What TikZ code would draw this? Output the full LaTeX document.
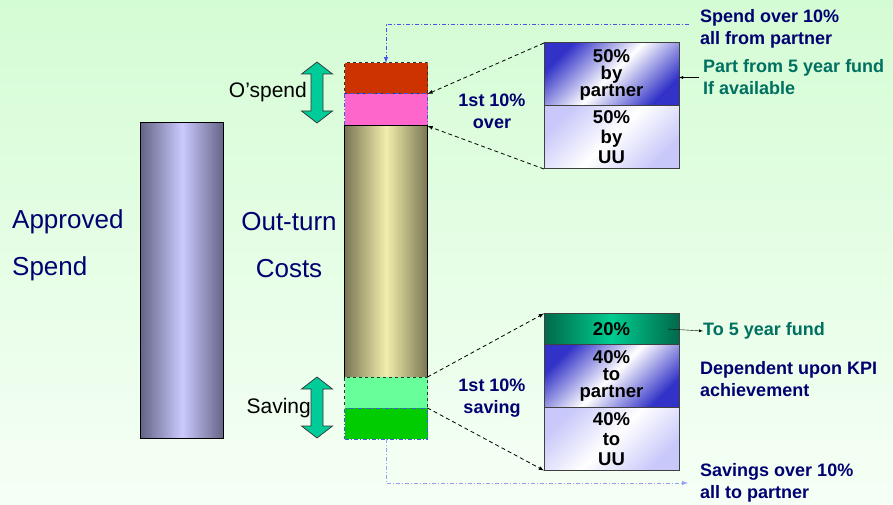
\documentclass[tikz,border=0pt]{standalone}
\usepackage{fontspec}
\setmainfont{Liberation Sans}
\usepackage{tikz}
\usetikzlibrary{positioning,arrows}

\definecolor{bgtop}{RGB}{212,252,212}
\definecolor{bgbot}{RGB}{246,255,246}
\definecolor{textblue}{RGB}{0,0,112}
\definecolor{fundtext}{RGB}{0,112,96}
\definecolor{lineblue}{RGB}{70,85,230}
\definecolor{steel}{RGB}{100,100,135}
\definecolor{lilac}{RGB}{202,202,255}
\definecolor{olivedark}{RGB}{122,118,84}
\definecolor{cream}{RGB}{242,238,172}
\definecolor{overred}{RGB}{204,51,0}
\definecolor{overpink}{RGB}{255,102,204}
\definecolor{savelight}{RGB}{102,255,153}
\definecolor{savegreen}{RGB}{0,204,0}
\definecolor{arrowteal}{RGB}{0,204,153}
\definecolor{funddark}{RGB}{0,105,75}
\definecolor{fundlight}{RGB}{0,205,145}
\definecolor{cellblue}{RGB}{50,50,200}
\definecolor{celllav}{RGB}{200,200,250}

\tikzset{
  bar/.style={minimum width=83pt, inner sep=0pt, outer sep=0pt, line width=1pt},
  cell/.style={draw=black!75, line width=1pt, minimum width=135pt, inner sep=0pt, outer sep=0pt,
    align=center, font=\fontsize{18.5}{17}\selectfont\bfseries},
  note/.style={inner sep=0pt, anchor=west, align=left, font=\fontsize{18}{22}\selectfont\bfseries},
  big/.style={inner sep=0pt, text=textblue, font=\fontsize{26}{47}\selectfont},
  dashdot/.style={dash pattern=on 4pt off 2pt on 1pt off 2pt},
  link/.style={dash pattern=on 4pt off 3pt, line width=0.8pt, -latex},
  budget/.style={dashdot, draw=lineblue, line width=1pt, -latex}
}

\begin{document}
\begin{tikzpicture}[x=1pt,y=-1pt]
\shade[top color=bgtop, bottom color=bgbot] (0,0) rectangle (893,505);
\useasboundingbox (0,0) rectangle (893,505);

% approved spend
\node[bar, draw, minimum height=315pt, left color=steel, right color=steel, middle color=lilac] (Approved) at (182,280.5) {};
\node[big, anchor=west, align=left] (ApprovedText) at (12,245.5) {Approved\\Spend};

% out-turn costs, stacked
\node[bar, draw=black!80, dashed, fill=overred, minimum height=31pt] (Red) at (386,78.5) {};
\node[bar, draw=lineblue, dashdot, fill=overpink, minimum height=32pt, below=0pt of Red] (Pink) {};
\node[bar, draw, minimum height=251pt, below=0pt of Pink, left color=olivedark, right color=olivedark, middle color=cream] (Main) {};
\node[bar, draw=black!80, dashed, fill=savelight, minimum height=31pt, below=0pt of Main] (Light) {};
\node[bar, draw=lineblue, dashdot, fill=savegreen, minimum height=31pt, below=0pt of Light] (Green) {};
\node[big, align=center] (OutTurn) at (289,245.5) {Out-turn\\Costs};

% up/down arrows
\foreach \yc in {92.5,407.5}
  \draw[fill=arrowteal, draw=black!80, line width=0.7pt] (317,\yc) ++(0,-30.5) -- ++(15.5,12) -- ++(-9.5,0) -- ++(0,37) -- ++(9.5,0)
    -- ++(-15.5,12) -- ++(-15.5,-12) -- ++(9.5,0) -- ++(0,-37) -- ++(-9.5,0) -- cycle;
\node[inner sep=0pt, anchor=east, font=\fontsize{21}{21}\selectfont] (OSpend) at (307,92) {O’spend};
\node[inner sep=0pt, anchor=east, font=\fontsize{21}{21}\selectfont] (Saving) at (311,408) {Saving};

% split of the overspend
\node[cell, minimum height=63pt, top color=cellblue, bottom color=cellblue, middle color=white, shading angle=45] (Partner50) at (611.5,74.5) {50\%\\by\\partner};
\node[cell, minimum height=63pt, below=0pt of Partner50, font=\fontsize{18.5}{20}\selectfont\bfseries,
  top color=celllav, bottom color=celllav, middle color=white, shading angle=45] (UU50) {50\%\\by\\UU};

% split of the saving
\node[cell, minimum height=31pt, left color=funddark, right color=funddark, middle color=fundlight] (Fund) at (611.5,329) {20\%};
\node[cell, minimum height=63pt, below=0pt of Fund, top color=cellblue, bottom color=cellblue, middle color=white, shading angle=45] (Partner40) {40\%\\to\\partner};
\node[cell, minimum height=63pt, below=0pt of Partner40, font=\fontsize{18.5}{20}\selectfont\bfseries,
  top color=celllav, bottom color=celllav, middle color=white, shading angle=45] (UU40) {40\%\\to\\UU};

\node[note, anchor=center, align=center, text=textblue] (FirstOver) at (492,111) {1st 10\%\\over};
\node[note, anchor=center, align=center, text=textblue] (FirstSave) at (492,398.5) {1st 10\%\\saving};

\node[note, text=textblue] (Over) at (700,29) {Spend over 10\%\\all from partner};
\node[note, text=fundtext] (Part) at (703,77.5) {Part from 5 year fund\\If available};
\node[note, text=fundtext] (ToFund) at (703,331) {To 5 year fund};
\node[note, text=textblue] (KPI) at (700,379.5) {Dependent upon KPI\\achievement};
\node[note, text=textblue] (Savings) at (700,483) {Savings over 10\%\\all to partner};

\draw[link] (Partner50.north west) -- (Red.south east);
\draw[link] (UU50.south west) -- (Pink.south east);
\draw[link] (Light.north east) -- (Fund.north west);
\draw[link] (Green.north east) -- (UU40.south west);

\draw[-latex] ([xshift=-4pt]Part.west) -- (Part.west -| Partner50.east);
\draw[-latex] ([xshift=-11pt]Fund.east) -- (ToFund.west);

\draw[budget] ([xshift=-11pt,yshift=4pt]Over.west) -| (Red.north);
\draw[budget, draw=lineblue!55] (Green.south) |- ([xshift=-12pt]Savings.west);
\end{tikzpicture}
\end{document}
